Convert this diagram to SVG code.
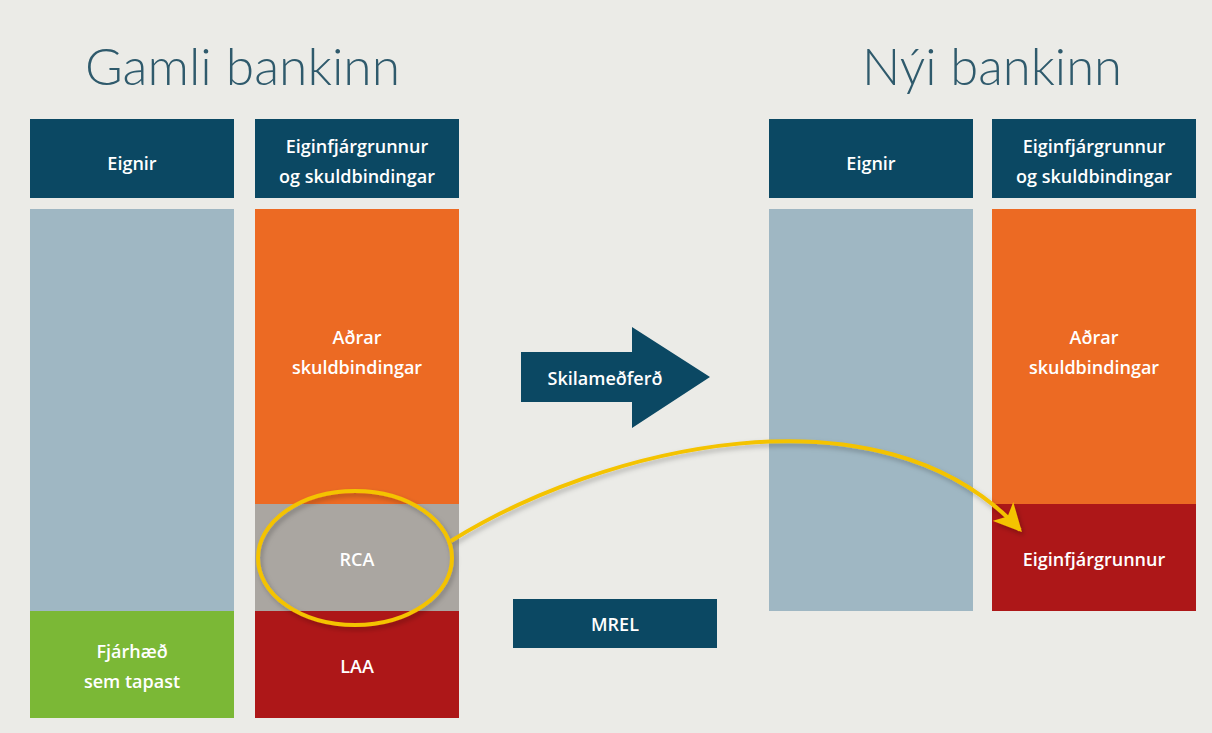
<svg xmlns="http://www.w3.org/2000/svg" width="1212" height="733" viewBox="0 0 1212 733">
<style>
.title{font-family:Lato,"Open Sans",sans-serif;font-weight:300;font-size:51px;fill:#2f5a6c}
.lbl{font-family:"Open Sans","Noto Sans",sans-serif;font-weight:600;font-size:18px;fill:#ffffff;text-anchor:middle}
.hdr{fill:#0b4863}
.asset{fill:#9fb7c3}
.orange{fill:#ec6a23}
.red{fill:#ad1718}
.gray{fill:#aaa6a1}
.green{fill:#7bb836}
.yl{fill:none;stroke:#f4c300;stroke-width:4}
</style>
<defs>
<filter id="sh" x="-20%" y="-20%" width="140%" height="140%">
<feDropShadow dx="2" dy="3" stdDeviation="2.5" flood-color="#000" flood-opacity="0.25"/>
</filter>
<marker id="ah" viewBox="0 0 10 10" refX="9" refY="5" markerWidth="7" markerHeight="7" markerUnits="strokeWidth" orient="auto">
<path d="M0,0 L10,5 L0,10 L2.5,5 z" fill="#f4c300"/>
</marker>
</defs>
<rect x="0" y="0" width="1212" height="733" fill="#ebebe7"/>

<text class="title" x="85" y="85" textLength="315" lengthAdjust="spacingAndGlyphs">Gamli bankinn</text>
<text class="title" x="862" y="85" textLength="260" lengthAdjust="spacingAndGlyphs">Nýi bankinn</text>

<g id="old-eignir-hdr"><rect class="hdr" x="30" y="119" width="204" height="79"/><text class="lbl" x="132" y="170">Eignir</text></g>
<g id="old-eigin-hdr"><rect class="hdr" x="255" y="119" width="204" height="79"/><text class="lbl" x="357" y="153">Eiginfjárgrunnur</text><text class="lbl" x="357" y="183">og skuldbindingar</text></g>
<g id="new-eignir-hdr"><rect class="hdr" x="769" y="119" width="204" height="79"/><text class="lbl" x="871" y="170">Eignir</text></g>
<g id="new-eigin-hdr"><rect class="hdr" x="992" y="119" width="204" height="79"/><text class="lbl" x="1094" y="153">Eiginfjárgrunnur</text><text class="lbl" x="1094" y="183">og skuldbindingar</text></g>

<g id="old-assets"><rect class="asset" x="30" y="209" width="204" height="402"/></g>
<g id="old-loss"><rect class="green" x="30" y="611" width="204" height="107"/><text class="lbl" x="132" y="658">Fjárhæð</text><text class="lbl" x="132" y="688">sem tapast</text></g>
<g id="old-other"><rect class="orange" x="255" y="209" width="204" height="295"/><text class="lbl" x="357" y="344">Aðrar</text><text class="lbl" x="357" y="374">skuldbindingar</text></g>
<g id="old-rca"><rect class="gray" x="255" y="504" width="204" height="107"/><text class="lbl" x="357" y="566">RCA</text></g>
<g id="old-laa"><rect class="red" x="255" y="611" width="204" height="107"/><text class="lbl" x="357" y="673">LAA</text></g>

<g id="new-assets"><rect class="asset" x="769" y="209" width="204" height="402"/></g>
<g id="new-other"><rect class="orange" x="992" y="209" width="204" height="295"/><text class="lbl" x="1094" y="344">Aðrar</text><text class="lbl" x="1094" y="374">skuldbindingar</text></g>
<g id="new-equity"><rect class="red" x="992" y="504" width="204" height="107"/><text class="lbl" x="1094" y="566">Eiginfjárgrunnur</text></g>

<g id="resolution-arrow"><polygon class="hdr" points="521,352 632,352 632,327 710,377 632,428 632,402 521,402"/><text class="lbl" x="605" y="385">Skilameðferð</text></g>
<g id="mrel"><rect class="hdr" x="513" y="599" width="204" height="49"/><text class="lbl" x="615" y="631">MREL</text></g>

<g id="connectors" filter="url(#sh)">
<ellipse class="yl" cx="355" cy="558" rx="97" ry="67"/>
<path class="yl" d="M451,541 C600,448 880,378 1020,530" marker-end="url(#ah)"/>
</g>
</svg>
